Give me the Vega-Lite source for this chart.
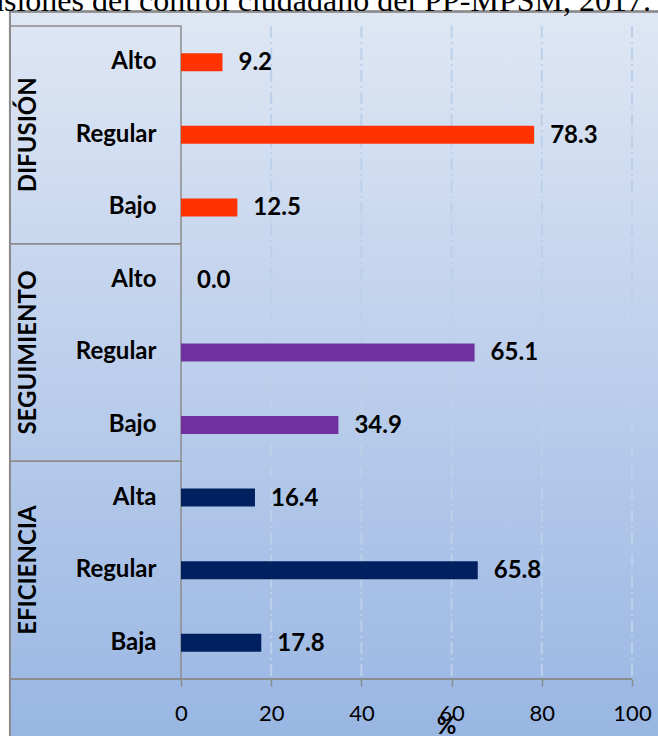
{
  "$schema": "https://vega.github.io/schema/vega-lite/v6.json",
  "autosize": {"type": "none"},
  "padding": {"left": 9, "top": 12, "right": 0, "bottom": 0},
  "width": 649,
  "height": 724,
  "title": {
    "text": "Dimensiones del control ciudadano del PP-MPSM, 2017.",
    "anchor": "end",
    "frame": "group",
    "font": "Liberation Serif",
    "fontSize": 32,
    "fontWeight": "normal",
    "color": "black",
    "baseline": "alphabetic",
    "offset": -33,
    "dx": -7
  },
  "config": {
    "view": {
      "stroke": null,
      "fill": {
        "gradient": "linear",
        "x1": 0, "y1": 0, "x2": 0, "y2": 1,
        "stops": [
          {"offset": 0, "color": "#dfe7f4"},
          {"offset": 1, "color": "#99b6e3"}
        ]
      }
    },
    "font": "Lato"
  },
  "datasets": {
    "barras": [
      {"clave": "DIFUSIÓN|Alto", "grupo": "DIFUSIÓN", "categoria": "Alto", "valor": 9.2},
      {"clave": "DIFUSIÓN|Regular", "grupo": "DIFUSIÓN", "categoria": "Regular", "valor": 78.3},
      {"clave": "DIFUSIÓN|Bajo", "grupo": "DIFUSIÓN", "categoria": "Bajo", "valor": 12.5},
      {"clave": "SEGUIMIENTO|Alto", "grupo": "SEGUIMIENTO", "categoria": "Alto", "valor": 0.0},
      {"clave": "SEGUIMIENTO|Regular", "grupo": "SEGUIMIENTO", "categoria": "Regular", "valor": 65.1},
      {"clave": "SEGUIMIENTO|Bajo", "grupo": "SEGUIMIENTO", "categoria": "Bajo", "valor": 34.9},
      {"clave": "EFICIENCIA|Alta", "grupo": "EFICIENCIA", "categoria": "Alta", "valor": 16.4},
      {"clave": "EFICIENCIA|Regular", "grupo": "EFICIENCIA", "categoria": "Regular", "valor": 65.8},
      {"clave": "EFICIENCIA|Baja", "grupo": "EFICIENCIA", "categoria": "Baja", "valor": 17.8}
    ],
    "grupos": [
      {"grupo": "DIFUSIÓN", "desde": "DIFUSIÓN|Alto", "medio": "DIFUSIÓN|Regular", "hasta": "DIFUSIÓN|Bajo"},
      {"grupo": "SEGUIMIENTO", "desde": "SEGUIMIENTO|Alto", "medio": "SEGUIMIENTO|Regular", "hasta": "SEGUIMIENTO|Bajo"},
      {"grupo": "EFICIENCIA", "desde": "EFICIENCIA|Alta", "medio": "EFICIENCIA|Regular", "hasta": "EFICIENCIA|Baja"}
    ],
    "rejilla": [
      {"v": 20}, {"v": 40}, {"v": 60}, {"v": 80}, {"v": 100}
    ]
  },
  "encoding": {
    "x": {
      "type": "quantitative",
      "scale": {"domain": [-38.137, 105.765], "nice": false, "zero": false},
      "axis": {
        "orient": "bottom", "offset": -57, "values": [0, 20, 40, 60, 80, 100],
        "domain": false, "grid": false, "ticks": true, "tickSize": 7, "tickColor": "#8c8c8c", "tickWidth": 1.5,
        "labelFont": "Lato", "labelFontSize": 22, "labelColor": "black", "labelPadding": 17,
        "title": "%", "titleFont": "Lato", "titleFontSize": 24, "titleFontWeight": "bold", "titleColor": "black",
        "titleX": 437, "titleY": 54, "titleAlign": "center", "titleBaseline": "alphabetic", "titleAnchor": null
      }
    },
    "y": {
      "type": "nominal",
      "scale": {
        "domain": [
          "DIFUSIÓN|Alto", "DIFUSIÓN|Regular", "DIFUSIÓN|Bajo",
          "SEGUIMIENTO|Alto", "SEGUIMIENTO|Regular", "SEGUIMIENTO|Bajo",
          "EFICIENCIA|Alta", "EFICIENCIA|Regular", "EFICIENCIA|Baja"
        ],
        "paddingInner": 0,
        "paddingOuter": 0.4893,
        "align": 0.197
      },
      "axis": {
        "orient": "left", "offset": -172, "domain": false, "ticks": false, "tickSize": 0, "grid": false,
        "values": [
          "DIFUSIÓN|Alto", "DIFUSIÓN|Regular", "DIFUSIÓN|Bajo",
          "SEGUIMIENTO|Alto", "SEGUIMIENTO|Regular", "SEGUIMIENTO|Bajo",
          "EFICIENCIA|Alta", "EFICIENCIA|Regular", "EFICIENCIA|Baja"
        ],
        "labelExpr": "split(datum.label, '|')[1]",
        "labelFont": "Lato", "labelFontSize": 24, "labelFontWeight": "bold", "labelColor": "black",
        "labelPadding": 25, "labelAlign": "right", "labelBaseline": "middle", "title": null
      }
    }
  },
  "layer": [
    {
      "data": {"name": "rejilla"},
      "mark": {"type": "rule", "color": "#bcd0ea", "strokeWidth": 2, "strokeDash": [12, 4, 2, 4]},
      "encoding": {
        "x": {"field": "v"},
        "y": {"datum": "DIFUSIÓN|Alto", "bandPosition": 0},
        "y2": {"datum": "EFICIENCIA|Baja", "bandPosition": 1}
      }
    },
    {
      "data": {"name": "grupos"},
      "mark": {"type": "rect", "fill": "transparent", "stroke": "#8c8c8c", "strokeWidth": 1.5},
      "encoding": {
        "x": {"datum": -37.92},
        "x2": {"datum": 0},
        "y": {"field": "desde", "bandPosition": 0},
        "y2": {"field": "hasta", "bandPosition": 1}
      }
    },
    {
      "data": {"name": "grupos"},
      "mark": {"type": "rule", "color": "#8c8c8c", "strokeWidth": 2},
      "encoding": {
        "x": {"datum": -37.92}
      }
    },
    {
      "data": {"name": "grupos"},
      "mark": {"type": "rule", "color": "#8c8c8c", "strokeWidth": 2},
      "encoding": {
        "y": {"datum": "DIFUSIÓN|Alto", "bandPosition": -0.2}
      }
    },
    {
      "data": {"name": "grupos"},
      "mark": {"type": "rule", "color": "#8c8c8c", "strokeWidth": 1.5},
      "encoding": {
        "x": {"datum": -37.92},
        "x2": {"datum": 100},
        "y": {"datum": "EFICIENCIA|Baja", "bandPosition": 1}
      }
    },
    {
      "data": {"name": "grupos"},
      "mark": {"type": "text", "angle": 270, "align": "center", "baseline": "middle", "font": "Lato", "fontWeight": "bold", "fontSize": 24, "color": "black"},
      "encoding": {
        "x": {"datum": -33.6},
        "y": {"field": "medio"},
        "text": {"field": "grupo"}
      }
    },
    {
      "data": {"name": "barras"},
      "mark": {"type": "bar", "height": 18},
      "encoding": {
        "x": {"field": "valor"},
        "y": {"field": "clave"},
        "color": {"field": "grupo", "type": "nominal", "legend": null,
          "scale": {"domain": ["DIFUSIÓN", "SEGUIMIENTO", "EFICIENCIA"], "range": ["#ff3300", "#7030a0", "#002060"]}}
      }
    },
    {
      "data": {"name": "barras"},
      "mark": {"type": "text", "align": "left", "baseline": "middle", "dx": 16, "dy": 1, "font": "Lato", "fontWeight": "bold", "fontSize": 24, "color": "black"},
      "encoding": {
        "x": {"field": "valor"},
        "y": {"field": "clave"},
        "text": {"field": "valor", "type": "quantitative", "format": ".1f"}
      }
    }
  ]
}
